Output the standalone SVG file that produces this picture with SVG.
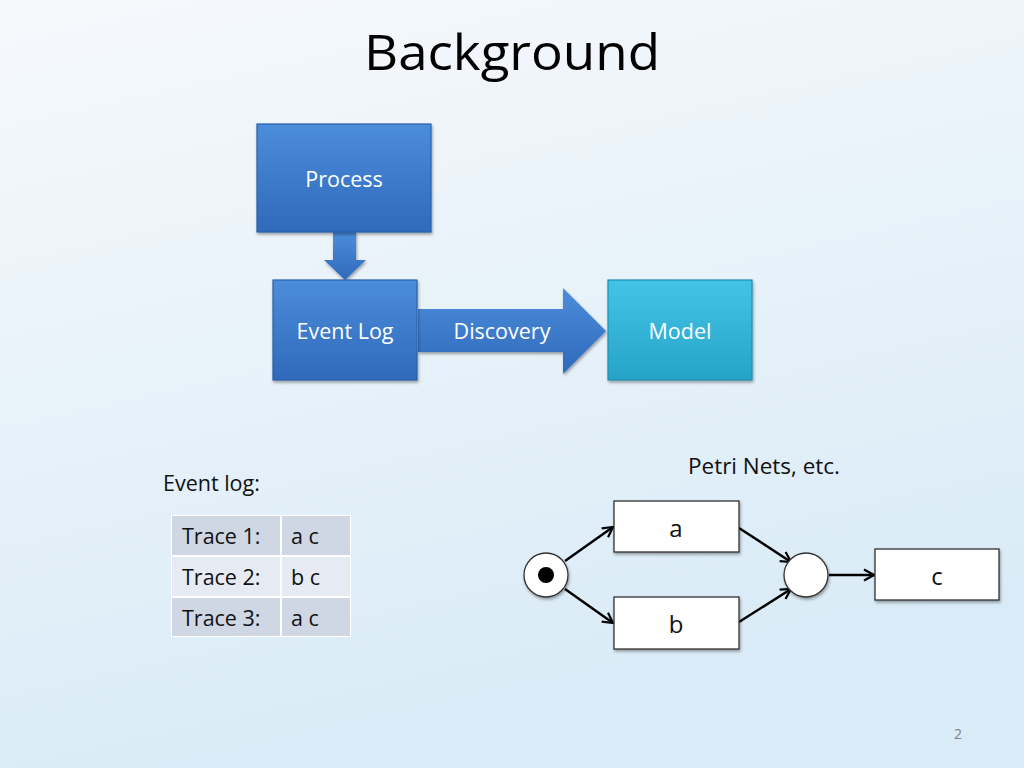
<svg xmlns="http://www.w3.org/2000/svg" width="1024" height="768" viewBox="0 0 1024 768">
<defs>
<linearGradient id="bg" x1="0" y1="0" x2="0.3" y2="1">
<stop offset="0" stop-color="#f6f9fc"/>
<stop offset="1" stop-color="#d9ebf7"/>
</linearGradient>
<linearGradient id="blue" x1="0" y1="0" x2="0" y2="1">
<stop offset="0" stop-color="#4c8ddb"/>
<stop offset="1" stop-color="#2f69bb"/>
</linearGradient>
<linearGradient id="cyan" x1="0" y1="0" x2="0" y2="1">
<stop offset="0" stop-color="#43c4e6"/>
<stop offset="1" stop-color="#26a4c8"/>
</linearGradient>
<filter id="sh" x="-10%" y="-10%" width="130%" height="130%">
<feDropShadow dx="1" dy="2" stdDeviation="1.5" flood-color="#000" flood-opacity="0.35"/>
</filter>
<marker id="ah2" viewBox="0 0 14 14" refX="12" refY="7" markerWidth="14" markerHeight="14" markerUnits="userSpaceOnUse" orient="auto">
<path d="M2,1.5 L12,7 L2,12.5" fill="none" stroke="#000" stroke-width="2.2"/>
</marker>
</defs>
<style>
.t{font-family:"Open Sans","Liberation Sans",sans-serif;}
.w{fill:#fff;font-size:21.5px;text-anchor:middle;}
.k{fill:#111;font-size:21.5px;}
.big{font-size:24px;text-anchor:middle;}
.bx{stroke:#2a5fa8;stroke-width:1.2;}
.pn{fill:#fff;stroke:#333;stroke-width:1.3;}
.ed{stroke:#000;stroke-width:2.5;fill:none;marker-end:url(#ah2);}
</style>
<rect width="1024" height="768" fill="url(#bg)"/>
<text class="t" x="512" y="70" font-size="50" text-anchor="middle" fill="#000" textLength="296" lengthAdjust="spacingAndGlyphs">Background</text>

<g id="connectors">
<path id="arrow-process-eventlog" d="M333,232 H356 V260 H366 L345,280 L324,260 H333 Z" fill="url(#blue)" filter="url(#sh)"/>
<path id="arrow-discovery" d="M418,309 H563 V288 L606,331 L563,374 V352 H418 Z" fill="url(#blue)" filter="url(#sh)"/>
<line x1="565" y1="561" x2="613" y2="527" class="ed"/>
<line x1="565" y1="589" x2="613" y2="623" class="ed"/>
<line x1="739" y1="528" x2="791" y2="562" class="ed"/>
<line x1="739" y1="622" x2="791" y2="589" class="ed"/>
<line x1="829" y1="575" x2="874" y2="575" class="ed"/>
</g>
<text class="t w" x="502" y="339">Discovery</text>

<g id="process">
<rect x="257" y="124" width="174" height="108" fill="url(#blue)" class="bx" filter="url(#sh)"/>
<text class="t w" x="344" y="187">Process</text>
</g>
<g id="eventlog">
<rect x="273" y="280" width="144" height="100" fill="url(#blue)" class="bx" filter="url(#sh)"/>
<text class="t w" x="345" y="339">Event Log</text>
</g>
<g id="model">
<rect x="608" y="280" width="144" height="100" fill="url(#cyan)" stroke="#1f8fb0" stroke-width="1.2" filter="url(#sh)"/>
<text class="t w" x="680" y="339">Model</text>
</g>

<text class="t k" x="688" y="474" textLength="152" lengthAdjust="spacingAndGlyphs">Petri Nets, etc.</text>
<text class="t k" x="163" y="491">Event log:</text>

<g id="eventlog-table">
<rect x="171" y="515" width="180" height="122" fill="#fff"/>
<rect x="172" y="516" width="108" height="39" fill="#cfd6e4"/>
<rect x="282" y="516" width="68" height="39" fill="#cfd6e4"/>
<rect x="172" y="557" width="108" height="39" fill="#e6eaf3"/>
<rect x="282" y="557" width="68" height="39" fill="#e6eaf3"/>
<rect x="172" y="598" width="108" height="38" fill="#cfd6e4"/>
<rect x="282" y="598" width="68" height="38" fill="#cfd6e4"/>
<text class="t k" x="182" y="544">Trace 1:</text>
<text class="t k" x="291" y="544">a c</text>
<text class="t k" x="182" y="585">Trace 2:</text>
<text class="t k" x="291" y="585">b c</text>
<text class="t k" x="182" y="626">Trace 3:</text>
<text class="t k" x="291" y="626">a c</text>
</g>

<g id="p-start">
<circle cx="546" cy="575" r="22" class="pn" filter="url(#sh)"/>
<circle cx="546" cy="575" r="8" fill="#000"/>
</g>
<g id="t-a">
<rect x="614" y="501" width="125" height="51" class="pn" filter="url(#sh)"/>
<text class="t k big" x="676" y="537">a</text>
</g>
<g id="t-b">
<rect x="614" y="597" width="125" height="52" class="pn" filter="url(#sh)"/>
<text class="t k big" x="676" y="633">b</text>
</g>
<g id="p-mid">
<circle cx="806" cy="575" r="22" class="pn" filter="url(#sh)"/>
</g>
<g id="t-c">
<rect x="875" y="549" width="124" height="51" class="pn" filter="url(#sh)"/>
<text class="t k big" x="937" y="585">c</text>
</g>

<text class="t" x="958" y="739" font-size="14" fill="#808080" text-anchor="middle">2</text>
</svg>
